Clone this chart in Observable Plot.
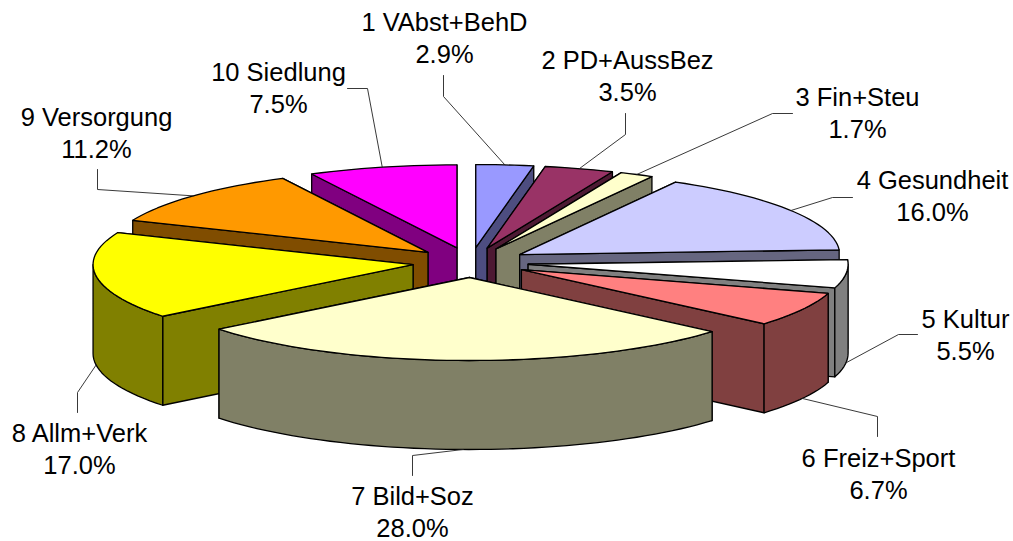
<!DOCTYPE html>
<html>
<head>
<meta charset="utf-8">
<script src="https://cdn.jsdelivr.net/npm/d3@7"></script>
<script src="https://cdn.jsdelivr.net/npm/@observablehq/plot@0.6"></script>
<style>html,body{margin:0;padding:0;background:#fff}svg{display:block}</style>
</head>
<body>
<div id="chart"></div>
<script>
// Data
const names = ["1 VAbst+BehD","2 PD+AussBez","3 Fin+Steu","4 Gesundheit","5 Kultur","6 Freiz+Sport","7 Bild+Soz","8 Allm+Verk","9 Versorgung","10 Siedlung"];
const values = [2.9,3.5,1.7,16.0,5.5,6.7,28.0,17.0,11.2,7.5];
const topColors = ["#9999FF","#993366","#FFFFCC","#CCCCFF","#FFFFFF","#FF8080","#FFFFCC","#FFFF00","#FF9900","#FF00FF"];
const sideColors = ["#4D4D80","#4D1A33","#808066","#666680","#808080","#804040","#808066","#808000","#804D00","#800080"];

// Pie geometry (in the plot's x/y scale units)
const cx = 470, cy = 262, rx = 320, ry = 83, depth = 89, explodeX = 58, explodeY = 15;
// Label block centres and leader elbows
const labelCenters = [[444,36],[627,74],[857,111],[932,194],[965,333],[878,472],[412,510],[79,447],[96,131],[278,86]];
const leaderElbows = [[[443,75],[443,96]],[[625,113],[625,134]],[[792,113],[772,113]],[[852,197],[832,197]],[[917,334],[898,334]],[[877,436],[877,416]],[[412,475],[412,455]],[[77,412],[77,392]],[[97,169],[97,189]],[[347,88],[367,88]]];
const leaderOnBase = [false,false,false,false,true,true,true,true,false,false];

const total = d3.sum(values);
const cum = d3.cumsum(values);
const slices = values.map((v,i) => {
  const a0 = (cum[i]-v)/total*2*Math.PI, a1 = cum[i]/total*2*Math.PI, mid = (a0+a1)/2;
  const tx = cx+explodeX*Math.sin(mid), ty = cy-explodeY*Math.cos(mid);
  const rim = a => [tx+rx*Math.sin(a), ty-ry*Math.cos(a)];
  return {i,a0,a1,mid,tx,ty,rim};
});
const order = d3.sort(slices, s => -Math.cos(s.mid));

const rows = [];
let fid = 0;
function face(points, fill){ fid++; for(const [x,y] of points) rows.push({id:fid,x,y,fill}); }
function arc(s, a0, a1){ const n = Math.max(2, Math.ceil((a1-a0)/(Math.PI/90))); return d3.range(n+1).map(k => s.rim(a0+(a1-a0)*k/n)); }
for(const s of order){
  const side = sideColors[s.i];
  // the cut face that lies further back is painted first
  for(const a of d3.sort([s.a0,s.a1], a => s.rim(a)[1])){
    const [x,y] = s.rim(a);
    face([[s.tx,s.ty],[x,y],[x,y+depth],[s.tx,s.ty+depth]], side);
  }
  const b0 = Math.max(s.a0, Math.PI/2), b1 = Math.min(s.a1, 3*Math.PI/2);
  if(b1>b0){
    const upper = arc(s,b0,b1);
    face([...upper, ...upper.slice().reverse().map(([x,y])=>[x,y+depth])], side);
  }
  face([[s.tx,s.ty], ...arc(s,s.a0,s.a1)], topColors[s.i]);
}

const leaders = [];
slices.forEach(s => {
  const [x,y] = s.rim(s.mid);
  const y0 = leaderOnBase[s.i] ? y+depth : y;
  [...leaderElbows[s.i],[x,y0]].forEach(([px,py]) => leaders.push({id:s.i,x:px,y:py}));
});
const labels = names.map((n,i)=>({text:`${n}\n${values[i].toFixed(1)}%`, x:labelCenters[i][0], y:labelCenters[i][1]}));

const chart = Plot.plot({
  width:1013, height:541, margin:0,
  x:{domain:[0,1013],range:[0,1013],axis:null},
  y:{domain:[0,541],range:[0,541],axis:null},
  color:{type:"identity"},
  style:{background:"#fff"},
  marks:[
    Plot.line(rows,{x:"x",y:"y",z:"id",fill:"fill",stroke:"#000",strokeWidth:1.3,curve:"linear-closed"}),
    Plot.line(leaders,{x:"x",y:"y",z:"id",stroke:"#222",strokeWidth:0.9}),
    Plot.text(labels,{x:"x",y:"y",text:"text",fontSize:25.5,fontFamily:"Liberation Sans, Arial, sans-serif",fill:"#000",lineHeight:1.29,lineAnchor:"middle",textAnchor:"middle"})
  ]
});
document.getElementById("chart").appendChild(chart);
</script>
</body>
</html>
